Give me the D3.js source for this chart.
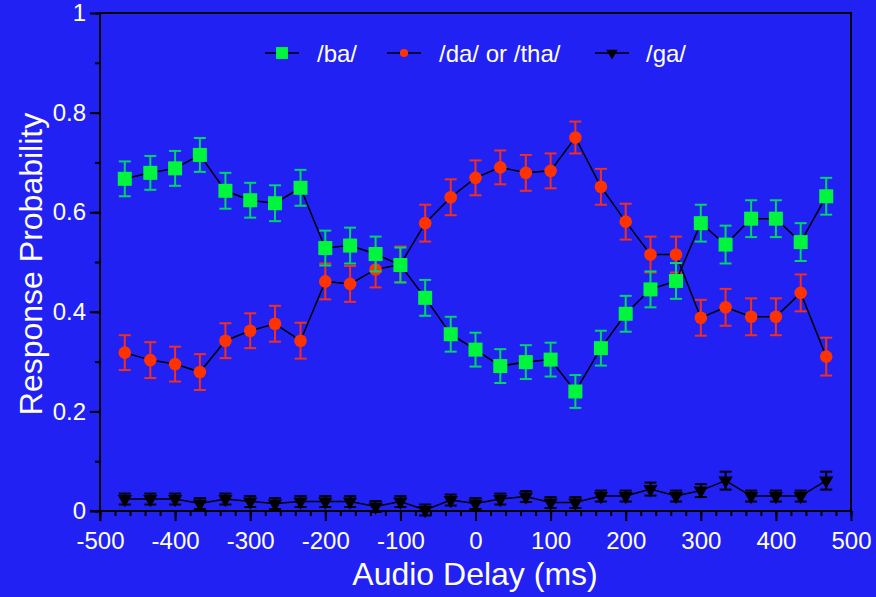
<!DOCTYPE html>
<html>
<head>
<meta charset="utf-8">
<script src="https://cdn.jsdelivr.net/npm/d3@7"></script>
<style>
  body { margin: 0; background: #2121f4; }
  svg { display: block; }
  text { font-family: "Liberation Sans", Arial, sans-serif; fill: #fff; }
</style>
</head>
<body>
<script>
// audio delay in ms (x positions of the points)
const delays = [-467, -433, -400, -367, -333, -300, -267, -233, -200, -167, -133, -100, -67, -33, 0,
  33, 67, 100, 133, 167, 200, 233, 267, 300, 333, 367, 400, 433, 467];

// /ba/ responses
const ba = [0.667, 0.679, 0.688, 0.715, 0.643, 0.624, 0.618, 0.649, 0.528, 0.533, 0.516, 0.494, 0.428, 0.355, 0.324,
  0.291, 0.299, 0.304, 0.240, 0.327, 0.396, 0.445, 0.462, 0.578, 0.535, 0.587, 0.587, 0.540, 0.632];
const baErr = [0.035, 0.034, 0.035, 0.034, 0.036, 0.035, 0.036, 0.036, 0.035, 0.036, 0.035, 0.035, 0.036, 0.035, 0.034,
  0.034, 0.034, 0.034, 0.033, 0.035, 0.036, 0.036, 0.036, 0.037, 0.038, 0.037, 0.037, 0.038, 0.037];

// /da/ or /tha/ responses
const da = [0.318, 0.303, 0.295, 0.279, 0.342, 0.362, 0.376, 0.342, 0.461, 0.456, 0.485, 0.495, 0.578, 0.630, 0.669,
  0.690, 0.679, 0.683, 0.750, 0.651, 0.581, 0.515, 0.515, 0.388, 0.409, 0.390, 0.390, 0.438, 0.310];
const daErr = [0.035, 0.036, 0.035, 0.036, 0.035, 0.035, 0.036, 0.036, 0.036, 0.036, 0.036, 0.036, 0.037, 0.036, 0.035,
  0.034, 0.036, 0.035, 0.032, 0.036, 0.036, 0.036, 0.036, 0.036, 0.037, 0.037, 0.037, 0.037, 0.038];

// /ga/ responses
const ga = [0.024, 0.024, 0.024, 0.015, 0.024, 0.019, 0.015, 0.019, 0.019, 0.019, 0.009, 0.019, 0.002, 0.022, 0.015,
  0.024, 0.029, 0.017, 0.017, 0.030, 0.030, 0.044, 0.030, 0.041, 0.061, 0.030, 0.030, 0.030, 0.061];
const gaErr = [0.011, 0.011, 0.011, 0.011, 0.011, 0.011, 0.011, 0.011, 0.011, 0.011, 0.011, 0.011, 0.011, 0.011, 0.011,
  0.011, 0.011, 0.011, 0.011, 0.011, 0.011, 0.013, 0.011, 0.013, 0.018, 0.011, 0.011, 0.011, 0.018];

const xTicks = [-500, -400, -300, -200, -100, 0, 100, 200, 300, 400, 500];
const yTicks = [0, 0.2, 0.4, 0.6, 0.8, 1];

const width = 876, height = 597;
const mLeft = 100, mRight = 851, mTop = 13, mBottom = 511;

const svg = d3.select("body").append("svg")
  .attr("width", width).attr("height", height);

const x = d3.scaleLinear().domain([-500, 500]).range([mLeft, mRight]);
const y = d3.scaleLinear().domain([0, 1]).range([mBottom, mTop]);

//frame on top and right
svg.append("path")
  .attr("d", "M" + mLeft + "," + mTop + "H" + mRight + "V" + mBottom)
  .attr("fill", "none").attr("stroke", "#000").attr("stroke-width", 2);

//x axis: minor ticks every 20, major every 100
const xAxis = svg.append("g").attr("transform", "translate(0," + mBottom + ")");
xAxis.append("g").call(d3.axisBottom(x).tickValues(d3.range(-500, 501, 20)).tickSize(5).tickFormat(""));
xAxis.append("g").call(d3.axisBottom(x).tickValues(xTicks).tickSize(10).tickPadding(11).tickFormat(d => String(d)));
xAxis.selectAll(".domain").remove();
xAxis.append("line").attr("x1", mLeft - 10).attr("x2", mRight);
xAxis.selectAll("line").attr("stroke", "#000").attr("stroke-width", 2);
xAxis.selectAll("text").attr("font-size", 24).attr("fill", "#fff")
  .attr("font-family", "Liberation Sans, Arial, sans-serif");

//y axis: minor ticks every 0.1
const yAxis = svg.append("g").attr("transform", "translate(" + mLeft + ",0)");
yAxis.append("g").call(d3.axisLeft(y).tickValues(d3.range(0, 1.01, 0.1)).tickSize(5).tickFormat(""));
yAxis.append("g").call(d3.axisLeft(y).tickValues(yTicks).tickSize(10).tickPadding(4).tickFormat(d => String(+d.toFixed(1))));
yAxis.selectAll(".domain").remove();
yAxis.append("line").attr("y1", mTop).attr("y2", mBottom + 10);
yAxis.selectAll("line").attr("stroke", "#000").attr("stroke-width", 2);
yAxis.selectAll("text").attr("font-size", 24).attr("fill", "#fff")
  .attr("font-family", "Liberation Sans, Arial, sans-serif");

//axis titles
svg.append("text").attr("x", 475).attr("y", 585).attr("text-anchor", "middle")
  .attr("font-size", 32).text("Audio Delay (ms)");
svg.append("text").attr("transform", "translate(42,264) rotate(-90)").attr("text-anchor", "middle")
  .attr("font-size", 32).text("Response Probability");

const line = d3.line().x(d => x(d[0])).y(d => y(d[1]));

function drawSeries(vals, errs, barColor, drawMarker) {
  const pts = delays.map((d, i) => [d, vals[i], errs[i]]);
  const g = svg.append("g");
  g.append("path").datum(pts).attr("d", line)
    .attr("fill", "none").attr("stroke", "#000").attr("stroke-width", 1.5);
  const eb = g.append("g").selectAll("g").data(pts).enter().append("g")
    .attr("stroke", barColor).attr("stroke-width", 2);
  eb.append("line").attr("x1", d => x(d[0])).attr("x2", d => x(d[0]))
    .attr("y1", d => y(d[1] - d[2])).attr("y2", d => y(d[1] + d[2]));
  eb.append("line").attr("x1", d => x(d[0]) - 6).attr("x2", d => x(d[0]) + 6)
    .attr("y1", d => y(d[1] - d[2])).attr("y2", d => y(d[1] - d[2]));
  eb.append("line").attr("x1", d => x(d[0]) - 6).attr("x2", d => x(d[0]) + 6)
    .attr("y1", d => y(d[1] + d[2])).attr("y2", d => y(d[1] + d[2]));
  drawMarker(g.append("g").selectAll("g").data(pts).enter().append("g")
    .attr("transform", d => "translate(" + x(d[0]) + "," + y(d[1]) + ")"), 1);
}

function square(sel, s) {
  sel.append("rect").attr("x", -7 * s).attr("y", -7 * s).attr("width", 14 * s).attr("height", 14 * s)
    .attr("fill", "#00f53c");
}
function circle(sel, s) {
  sel.append("circle").attr("r", 6.3 * s).attr("fill", "#ff3300");
}
function triangle(sel, s) {
  sel.append("path").attr("d", d3.symbol().type(d3.symbolTriangle).size(88 * s * s))
    .attr("transform", "rotate(180)").attr("fill", "#000");
}

drawSeries(ga, gaErr, "#000", triangle);
drawSeries(da, daErr, "#f0301c", circle);
drawSeries(ba, baErr, "#00d46a", square);

//legend
const legend = [
  { name: "/ba/", cx: 282, tx: 317, marker: square, s: 0.85 },
  { name: "/da/ or /tha/", cx: 404, tx: 439, marker: circle, s: 0.65 },
  { name: "/ga/", cx: 612, tx: 646, marker: triangle, s: 0.8 }
];
legend.forEach(l => {
  const g = svg.append("g");
  g.append("line").attr("x1", l.cx - 17).attr("x2", l.cx + 17).attr("y1", 53).attr("y2", 53)
    .attr("stroke", "#000").attr("stroke-width", 1.5);
  l.marker(g.append("g").attr("transform", "translate(" + l.cx + ",53)"), l.s);
  g.append("text").attr("x", l.tx).attr("y", 62).attr("font-size", 24).text(l.name);
});
</script>
</body>
</html>
